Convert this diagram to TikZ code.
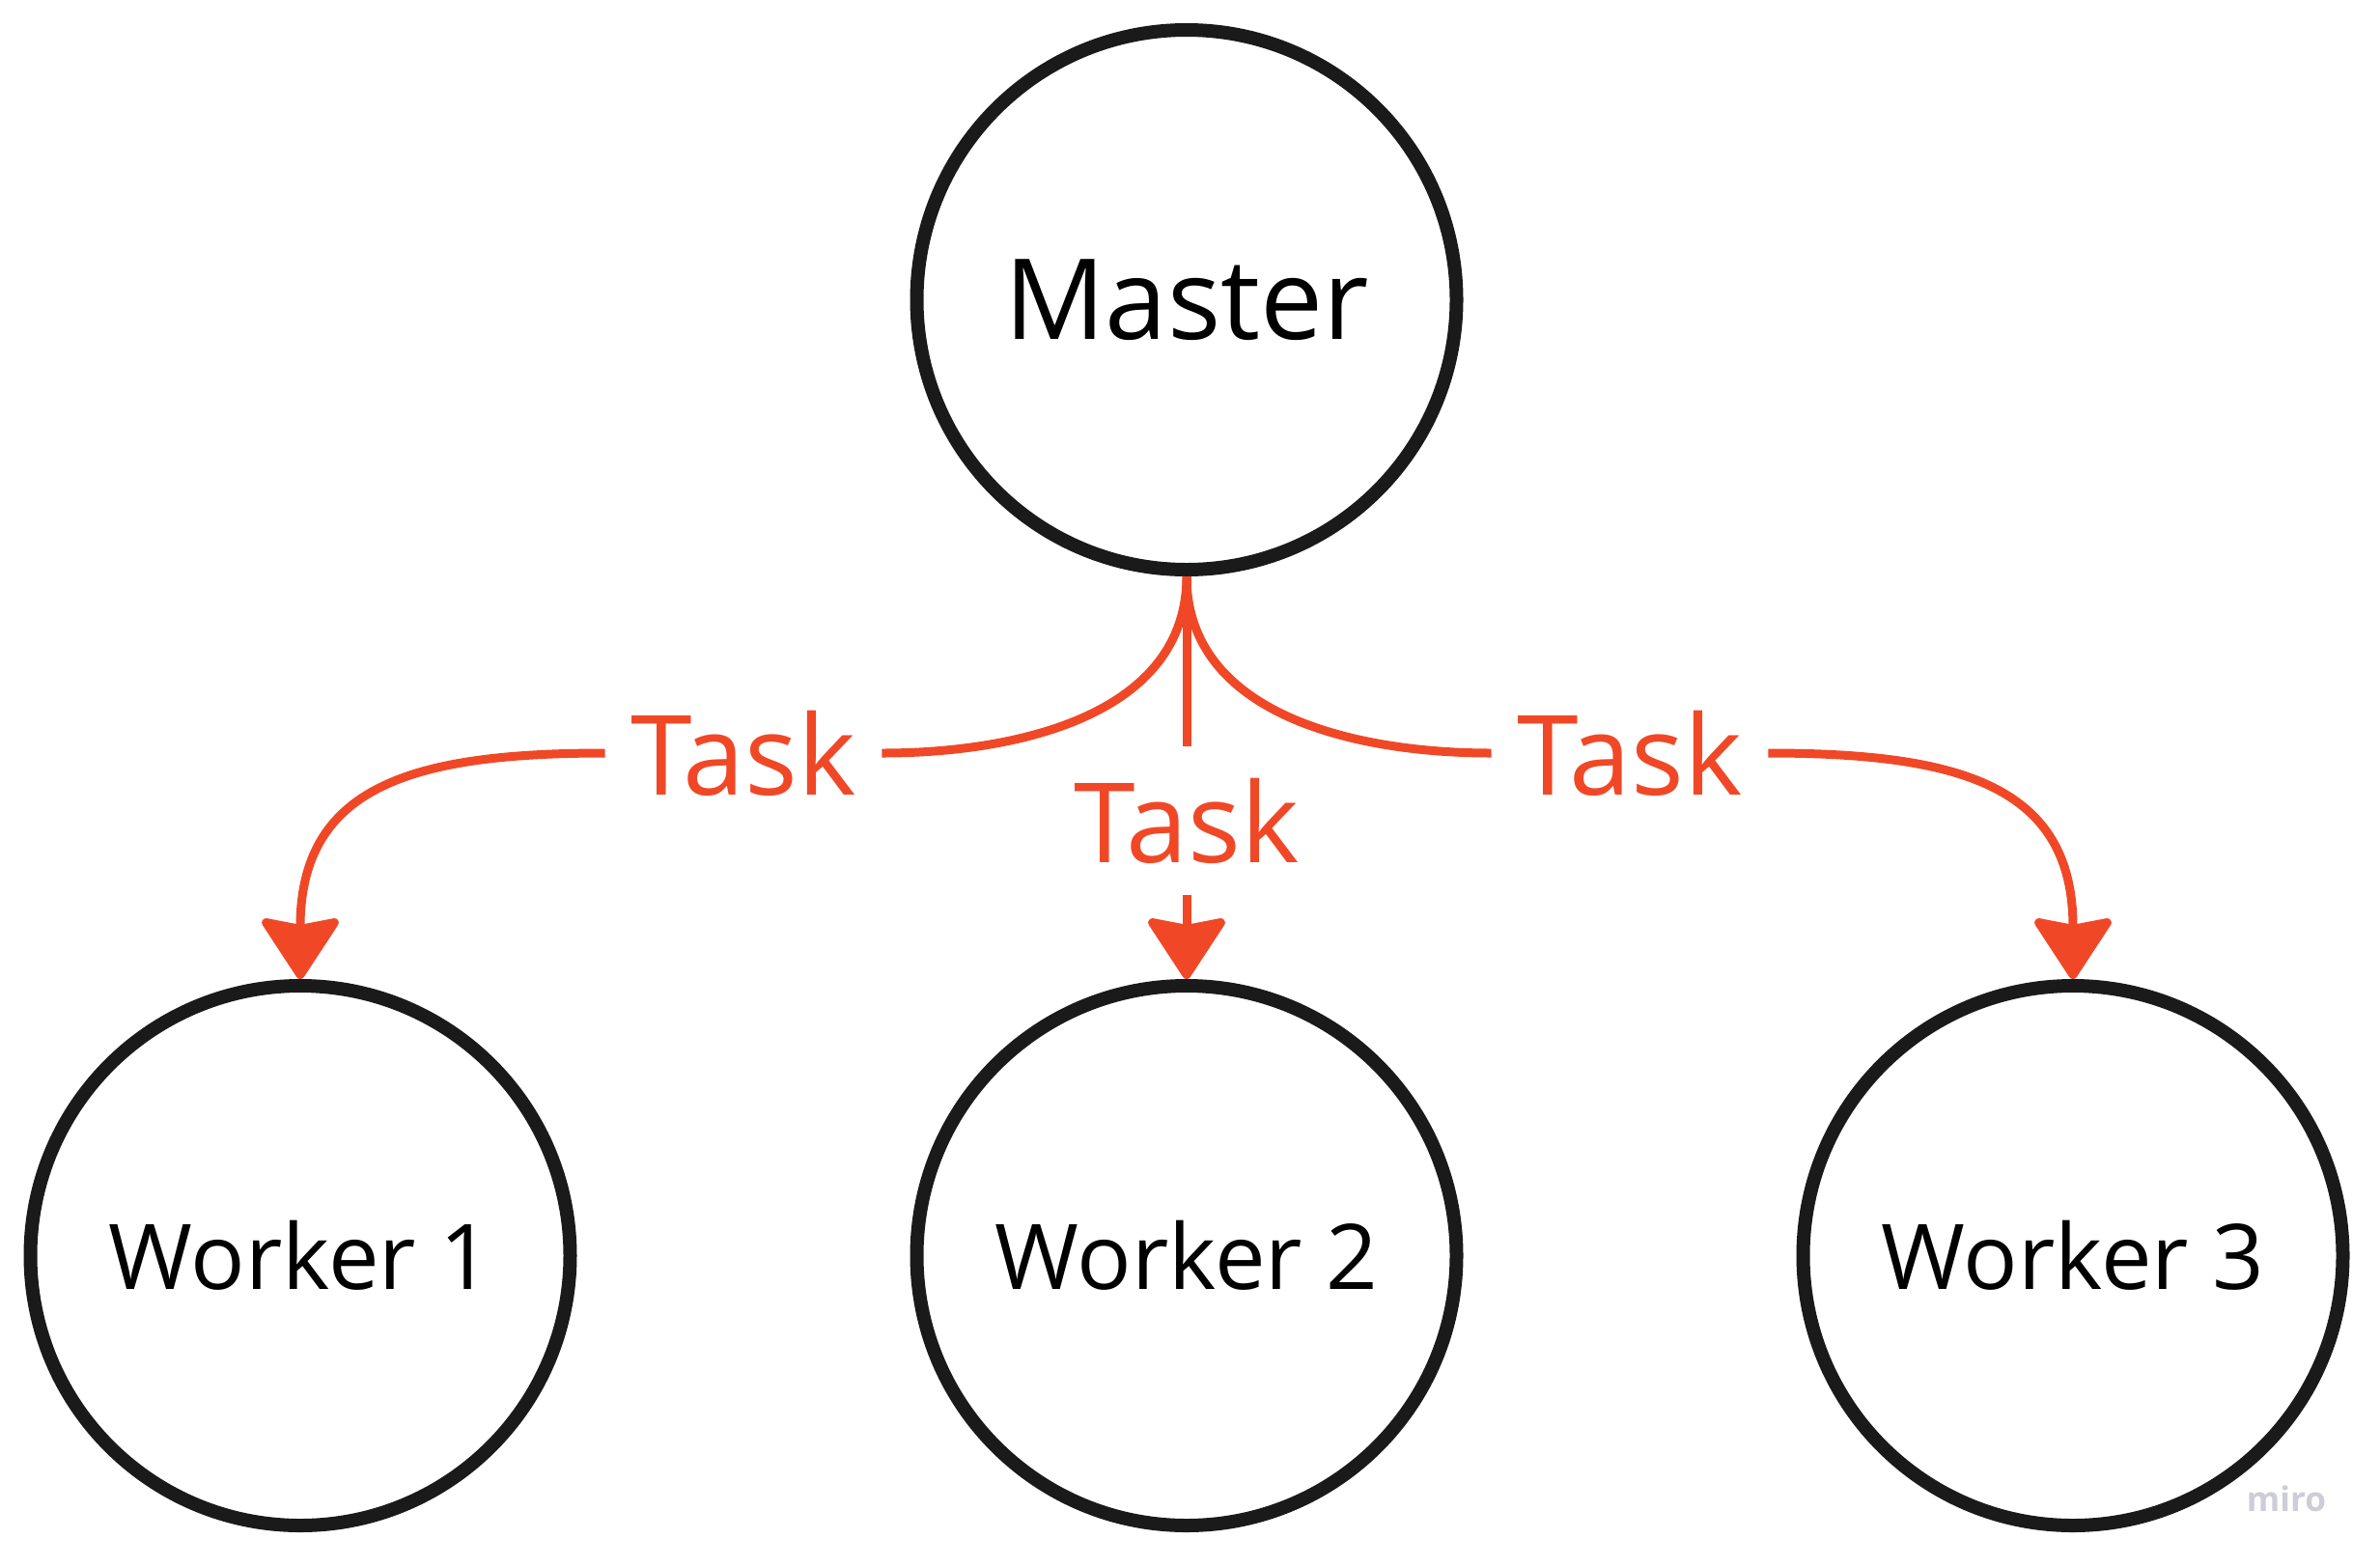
\documentclass[tikz,border=0pt]{standalone}
\usepackage{fontspec}
\setmainfont{Open Sans}
\usetikzlibrary{arrows.meta,positioning}
\definecolor{ink}{RGB}{26,26,26}
\definecolor{taskred}{RGB}{240,72,38}
\definecolor{mirogray}{RGB}{205,205,215}

\begin{document}
\begin{tikzpicture}[
        node distance=4.17cm and 3.45cm,
        auto,
        proc/.style={
            circle,
            draw=ink,
            fill=white,
            line width=1.4mm,
            minimum size=5.59cm,
            inner sep=0pt,
            font=\fontsize{26.7}{32}\selectfont
        },
        tasklabel/.style={
            text=taskred,
            inner xsep=2.6mm,
            inner ysep=3.2mm,
            font=\fontsize{32.7}{38}\selectfont
        },
        link/.style={
            draw=taskred,
            line width=0.9mm
        },
        sends/.style={
            link,
            -{Stealth[length=6.8mm, width=8.8mm, inset=0.8mm, round]}
        }
    ]

        \useasboundingbox (0,0) rectangle (24.65,-16.22);

        \node (m) [
            proc,
            font=\fontsize{33}{40}\selectfont
        ] at (12.29,-3.105) {\raisebox{-0.6mm}{Master}};

        \node (w2) [proc, below=of m] {Worker 2};
        \node (w1) [proc, left=of w2] {Worker 1};
        \node (w3) [proc, right=of w2] {Worker 3};

        \node (t2) [tasklabel, below=1.76cm of m] {Task};
        \node (t1) [tasklabel] at (7.70,-7.80) {Task};
        \node (t3) [tasklabel] at (16.88,-7.80) {Task};

        \node (logo) [
            text=mirogray,
            font=\fontsize{10}{12}\selectfont\bfseries
        ] at (23.68,-15.52) {miro};

        \draw[link] (m.south) to[out=-90, in=0] (t1.east);
        \draw[sends] (t1.west) to[out=180, in=90, looseness=1.3] (w1.north);
        \draw[link] (m.south) -- (t2.north);
        \draw[sends] (t2.south) -- (w2.north);
        \draw[link] (m.south) to[out=-90, in=180] (t3.west);
        \draw[sends] (t3.east) to[out=0, in=90, looseness=1.3] (w3.north);
    \end{tikzpicture}
\end{document}
